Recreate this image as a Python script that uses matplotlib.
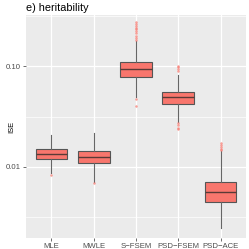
import numpy as np
import matplotlib.pyplot as plt

# ISE summaries (log10 scale in the original)
methods = ['MLE', 'MWLE', 'S\u2212FSEM', 'PSD\u2212FSEM', 'PSD\u2212ACE']
q1 = [0.0119, 0.01096, 0.0783, 0.0418, 0.00447]
med = [0.01346, 0.01256, 0.0940, 0.0490, 0.00565]
q3 = [0.01507, 0.01449, 0.1088, 0.0553, 0.00710]
whislo = [0.00873, 0.0071, 0.0497, 0.0279, 0.00249]
whishi = [0.0208, 0.0216, 0.177, 0.0815, 0.0143]
outliers = [
    [0.00834],
    [0.0069],
    [0.182, 0.19, 0.20, 0.21, 0.22, 0.23, 0.24, 0.25, 0.26, 0.27, 0.0468, 0.0402],
    [0.089, 0.093, 0.097, 0.100, 0.0273, 0.0258, 0.0245, 0.0238],
    [0.0146, 0.0152, 0.0158, 0.0165, 0.0172],
]

stats = []
for i, m in enumerate(methods):
    stats.append(dict(label=m, q1=q1[i], med=med[i], q3=q3[i],
                      whislo=whislo[i], whishi=whishi[i], fliers=outliers[i]))

fig = plt.figure(figsize=(2.49, 2.49), dpi=100)
ax = fig.add_axes([26 / 249, 1 - 238.3 / 249, 220 / 249, 223.6 / 249])
ax.set_facecolor('#EBEBEB')
ax.set_yscale('log')

pos = np.arange(len(methods))
ax.bxp(stats, positions=pos, widths=0.75, patch_artist=True, showcaps=False,
       boxprops=dict(facecolor='#F8766D', edgecolor='#555555', linewidth=0.8),
       medianprops=dict(color='#5a3a36', linewidth=1.0),
       whiskerprops=dict(color='#666666', linewidth=0.8),
       flierprops=dict(marker='o', markersize=1.8, markerfacecolor='#F8766D',
                       markeredgecolor='none', alpha=0.7))

ax.set_xlim(-0.6, 4.6)
ax.set_ylim(10 ** -2.706, 10 ** -0.492)
ax.set_yticks([0.01, 0.1])
ax.set_yticklabels(['0.01', '0.10'])
ax.set_yticks([10 ** -2.5, 10 ** -1.5, 10 ** -0.5], minor=True)
ax.set_xticks(pos)
ax.set_xticklabels(methods)
ax.yaxis.set_minor_formatter(plt.NullFormatter())

ax.grid(True, which='major', color='white', linewidth=0.9)
ax.grid(True, which='minor', axis='y', color='white', linewidth=0.5)
ax.set_axisbelow(True)
for s in ax.spines.values():
    s.set_visible(False)

ax.tick_params(axis='both', which='major', length=2, width=0.5, color='#333333',
               labelsize=5.6, labelcolor='#4D4D4D', pad=1.5)
ax.tick_params(axis='y', which='minor', length=0)
for lab in ax.get_xticklabels() + ax.get_yticklabels():
    lab.set_family('Liberation Sans')

ax.set_ylabel('ISE', fontsize=5.4, family='Liberation Sans')
ax.yaxis.set_label_coords(-0.05, 0.5)
ax.set_title('e) heritability', loc='left', fontsize=7.8, family='Liberation Sans', pad=3)

fig.savefig('out.png', dpi=100)
